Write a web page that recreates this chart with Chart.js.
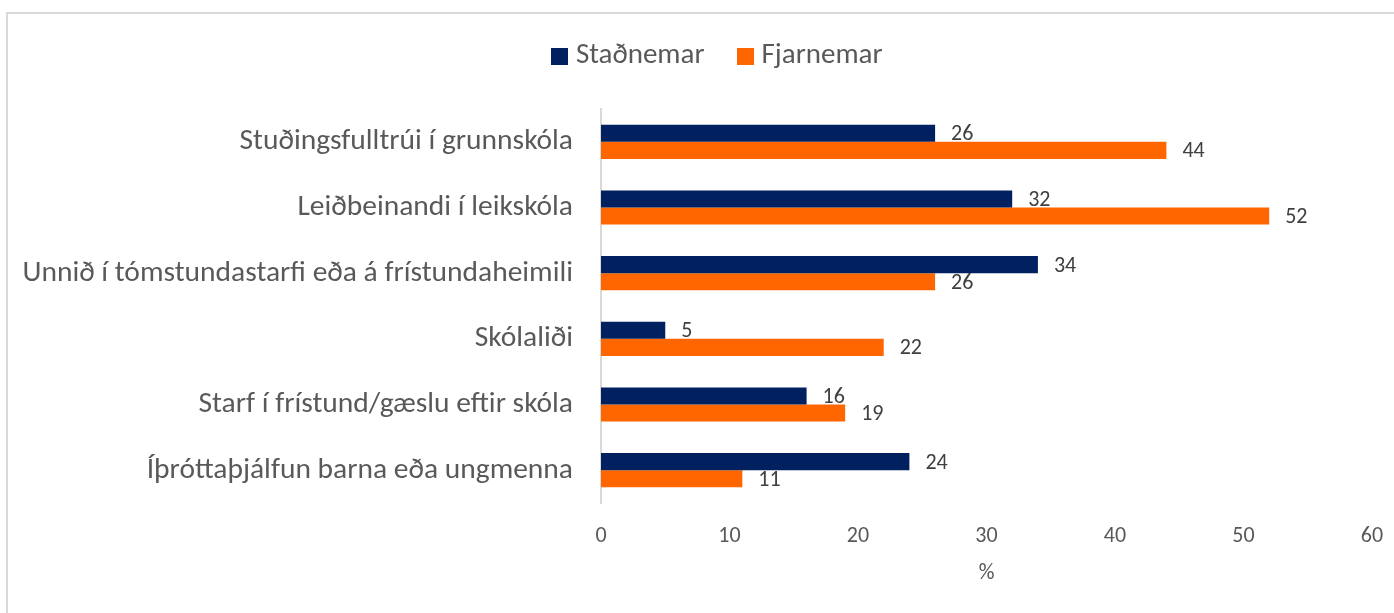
<!DOCTYPE html>
<html>
<head>
<meta charset="utf-8">
<script src="https://cdn.jsdelivr.net/npm/chart.js@4/dist/chart.umd.min.js"></script>
<style>
html,body{margin:0;padding:0;background:#fff;}
#wrap{width:1394px;height:613px;position:relative;}
</style>
</head>
<body>
<div id="wrap"><canvas id="c" width="1394" height="613"></canvas></div>
<script>
const categories = [
  "Stuðingsfulltrúi í grunnskóla",
  "Leiðbeinandi í leikskóla",
  "Unnið í tómstundastarfi eða á frístundaheimili",
  "Skólaliði",
  "Starf í frístund/gæslu eftir skóla",
  "Íþróttaþjálfun barna eða ungmenna"
];
const stadnemar = [26, 32, 34, 5, 16, 24];
const fjarnemar = [44, 52, 26, 22, 19, 11];
const xTicks = [0, 10, 20, 30, 40, 50, 60];

const FONT = 'Carlito, Calibri, "Open Sans", sans-serif';
const TXT = '#595959';
const COLORS = ['#002060', '#ff6600'];
const TOP_PAD = 9;
const LEGEND_H = 100;
const LEGEND_DX = 28;
const LEGEND_DY = -6;

function swatch(color) {
  const c = document.createElement('canvas');
  c.width = 17; c.height = 17;
  const g = c.getContext('2d');
  g.fillStyle = color;
  g.fillRect(0, 0, 17, 17);
  return c;
}
const swatches = COLORS.map(swatch);

const frame = {
  id: 'frame',
  beforeInit(chart) {
    if (chart.legend) {
      const orig = chart.legend.fit;
      chart.legend.fit = function () {
        orig.call(this);
        this.height = LEGEND_H;
      };
    }
  },
  afterLayout(chart) {
    const lg = chart.legend;
    if (lg) {
      lg.left += LEGEND_DX; lg.right += LEGEND_DX;
      lg.top += LEGEND_DY; lg.bottom += LEGEND_DY;
    }
  },
  beforeDraw(chart) {
    const ctx = chart.ctx;
    ctx.save();
    ctx.fillStyle = '#fff';
    ctx.fillRect(0, 0, chart.width, chart.height);
    ctx.strokeStyle = '#d9d9d9';
    ctx.lineWidth = 2;
    ctx.strokeRect(7, 13, 1500, 800);
    ctx.restore();
  }
};

const labels = {
  id: 'valueLabels',
  afterDatasetsDraw(chart) {
    const ctx = chart.ctx;
    ctx.save();
    ctx.font = '22px ' + FONT;
    ctx.fillStyle = '#404040';
    ctx.textAlign = 'left';
    ctx.textBaseline = 'middle';
    chart.data.datasets.forEach((ds, i) => {
      const meta = chart.getDatasetMeta(i);
      meta.data.forEach((bar, j) => {
        ctx.fillText(String(ds.data[j]), bar.x + 16, bar.y + 1.5);
      });
    });
    ctx.restore();
  }
};

new Chart(document.getElementById('c'), {
  type: 'bar',
  data: {
    labels: categories,
    datasets: [
      { label: 'Staðnemar', data: stadnemar, backgroundColor: COLORS[0], categoryPercentage: 0.52, barPercentage: 1.0 },
      { label: 'Fjarnemar', data: fjarnemar, backgroundColor: COLORS[1], categoryPercentage: 0.52, barPercentage: 1.0 }
    ]
  },
  options: {
    indexAxis: 'y',
    responsive: false,
    animation: false,
    devicePixelRatio: 1,
    layout: { padding: { left: 12, right: 22, top: TOP_PAD, bottom: 26 } },
    plugins: {
      tooltip: { enabled: false },
      legend: {
        position: 'top',
        labels: {
          font: { family: FONT, size: 29 },
          color: TXT,
          usePointStyle: true,
          pointStyleWidth: 4,
          boxHeight: 17,
          padding: 38.5,
          generateLabels(chart) {
            const items = Chart.defaults.plugins.legend.labels.generateLabels(chart);
            items.forEach((it, i) => { it.pointStyle = swatches[i]; });
            return items;
          }
        }
      }
    },
    scales: {
      x: {
        min: 0, max: 60,
        afterBuildTicks(scale) { scale.ticks = xTicks.map(v => ({ value: v })); },
        afterFit(scale) { scale.height = 84; scale.paddingLeft = 0; scale.paddingRight = 0; },
        grid: { display: false, drawTicks: false },
        border: { display: false },
        ticks: { font: { family: FONT, size: 22 }, color: TXT, padding: 20 },
        title: { display: true, text: '%', font: { family: FONT, size: 22 }, color: TXT, padding: { top: 0, bottom: 0 } }
      },
      y: {
        grid: { display: false, drawTicks: false },
        border: { display: true, color: '#d9d9d9', width: 2 },
        afterFit(scale) { scale.width = 589; scale.paddingTop = 0; scale.paddingBottom = 0; },
        ticks: { font: { family: FONT, size: 29.5 }, color: TXT, padding: 28 }
      }
    }
  },
  plugins: [frame, labels]
});
</script>
</body>
</html>
